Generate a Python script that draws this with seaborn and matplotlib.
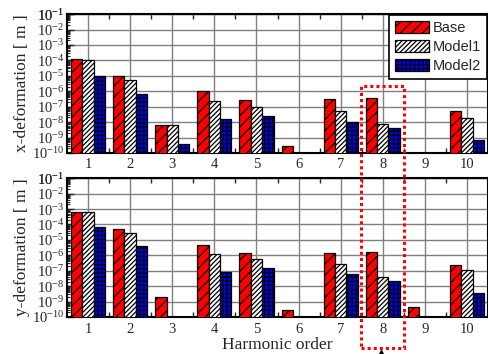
import numpy as np
import pandas as pd
import matplotlib
matplotlib.use("Agg")
import matplotlib.pyplot as plt
import matplotlib.transforms as mtransforms
from matplotlib.patches import Patch, Rectangle
from matplotlib.ticker import LogLocator, FixedLocator, NullFormatter
import seaborn as sns

# Harmonic orders and series
harmonics = [1, 2, 3, 4, 5, 6, 7, 8, 9, 10]
models = ["Base", "Model1", "Model2"]

# x-direction deformation amplitude [m] (nan = not present)
x_base = [1.15e-4, 1.0e-5, 6.2e-9, 1.0e-6, 2.8e-7, 2.8e-10, 3.0e-7, 3.5e-7, np.nan, 5.2e-8]
x_model1 = [1.05e-4, 5.0e-6, 6.2e-9, 2.3e-7, 1.0e-7, np.nan, 5.0e-8, 7.2e-9, np.nan, 1.9e-8]
x_model2 = [1.0e-5, 6.9e-7, 3.8e-10, 1.6e-8, 2.6e-8, np.nan, 9.8e-9, 4.2e-9, np.nan, 6.9e-10]

# y-direction deformation amplitude [m]
y_base = [6.3e-4, 5.2e-5, 2.1e-9, 4.9e-6, 1.4e-6, 3.0e-10, 1.5e-6, 1.55e-6, 4.7e-10, 2.5e-7]
y_model1 = [6.6e-4, 2.9e-5, np.nan, 1.26e-6, 6.0e-7, np.nan, 2.9e-7, 4.1e-8, np.nan, 1.05e-7]
y_model2 = [6.5e-5, 4.2e-6, np.nan, 8.7e-8, 1.5e-7, np.nan, 5.8e-8, 2.1e-8, np.nan, 3.8e-9]

y_ticks = [10.0 ** e for e in range(-10, 0)]

colors = {"Base": "#ff0000", "Model1": "#ffffff", "Model2": "#0000ff"}
hatches = {"Base": "///", "Model1": "///////", "Model2": "++++"}


def long_table(series):
    rows = []
    for name, vals in zip(models, series):
        for h, v in zip(harmonics, vals):
            if not np.isnan(v):
                rows.append({"order": str(h), "model": name, "value": v})
    return pd.DataFrame(rows)


sns.set_theme(style="white")
plt.rcParams.update({
    "font.family": ["Liberation Serif", "DejaVu Serif"],
    "mathtext.fontset": "stix",
    "hatch.linewidth": 0.9,
    "hatch.color": "black",
    "axes.edgecolor": "black",
})

fig = plt.figure(figsize=(4.89, 3.54), dpi=100)
ax_top = fig.add_axes([0.137, 0.568, 0.861, 0.392])
ax_bot = fig.add_axes([0.137, 0.1045, 0.861, 0.392])

panels = [
    (ax_top, [x_base, x_model1, x_model2], "x-deformation [ m ]"),
    (ax_bot, [y_base, y_model1, y_model2], "y-deformation [ m ]"),
]

order = [str(h) for h in harmonics]

for ax, series, label in panels:
    df = long_table(series)
    sns.barplot(data=df, x="order", y="value", hue="model", order=order,
                hue_order=models, palette=colors, saturation=1, width=0.81,
                edgecolor="black", linewidth=0.9, log_scale=True,
                legend=False, ax=ax, zorder=3)
    for cont, name in zip(ax.containers, models):
        for bar in cont:
            bar.set_hatch(hatches[name])
    ax.set_yscale("log")
    ax.set_ylim(1e-10, 1e-1)
    ax.set_xlim(-0.5, len(harmonics) - 0.5)
    ax.yaxis.set_major_locator(FixedLocator(y_ticks + [1e-1]))
    ax.yaxis.set_minor_locator(LogLocator(base=10, subs=np.arange(2, 10), numticks=30))
    ax.yaxis.set_minor_formatter(NullFormatter())
    ax.xaxis.set_minor_locator(FixedLocator(np.arange(0.5, len(harmonics) - 0.5, 1.0)))
    ax.tick_params(axis="y", which="major", direction="in", length=5, width=1.0,
                   labelsize=10.5, left=True, pad=2)
    ax.tick_params(axis="y", which="minor", direction="in", length=2.5, width=0.8, left=True)
    ax.tick_params(axis="x", which="major", length=0, labelsize=10.5, pad=4)
    ax.tick_params(axis="x", which="minor", direction="in", length=3.5, width=1.0,
                   top=True, bottom=True)
    ax.grid(True, which="major", axis="both", color="#808080", linewidth=1.0, zorder=0)
    ax.set_axisbelow(True)
    for sp in ax.spines.values():
        sp.set_linewidth(1.5)
        sp.set_color("black")
    ax.set_ylabel(label, fontsize=12.5, labelpad=1)
    ax.set_xlabel("")

ax_bot.set_xlabel("Harmonic order", fontsize=12.5, labelpad=1)

handles = [Patch(facecolor=colors[m], edgecolor="black", hatch=hatches[m], linewidth=0.9,
                 label=m) for m in models]
leg = ax_top.legend(handles=handles, loc="upper right", borderaxespad=0.05,
                    fancybox=False, framealpha=1, edgecolor="black",
                    prop={"family": "Liberation Sans", "size": 10.5},
                    handlelength=2.3, handleheight=0.95, handletextpad=0.3,
                    labelspacing=0.32, borderpad=0.4)
leg.get_frame().set_linewidth(1.2)
leg.set_zorder(10)

# Dotted highlight around the 8th harmonic spanning both panels
blend = mtransforms.blended_transform_factory(ax_top.transData, fig.transFigure)
idx = harmonics.index(8)
y0, y1 = 0.0178, 0.757
fig.add_artist(Rectangle((idx - 0.51, y0), 1.02, y1 - y0, transform=blend, fill=False,
                         edgecolor="#ff0000", linestyle=(0, (1, 1)), linewidth=2.2,
                         clip_on=False, zorder=20))
fig.add_artist(plt.Line2D([idx - 0.04], [0.004], transform=blend, marker="^",
                          markersize=4, color="black", clip_on=False, zorder=20))

fig.savefig("out.png", dpi=100)
